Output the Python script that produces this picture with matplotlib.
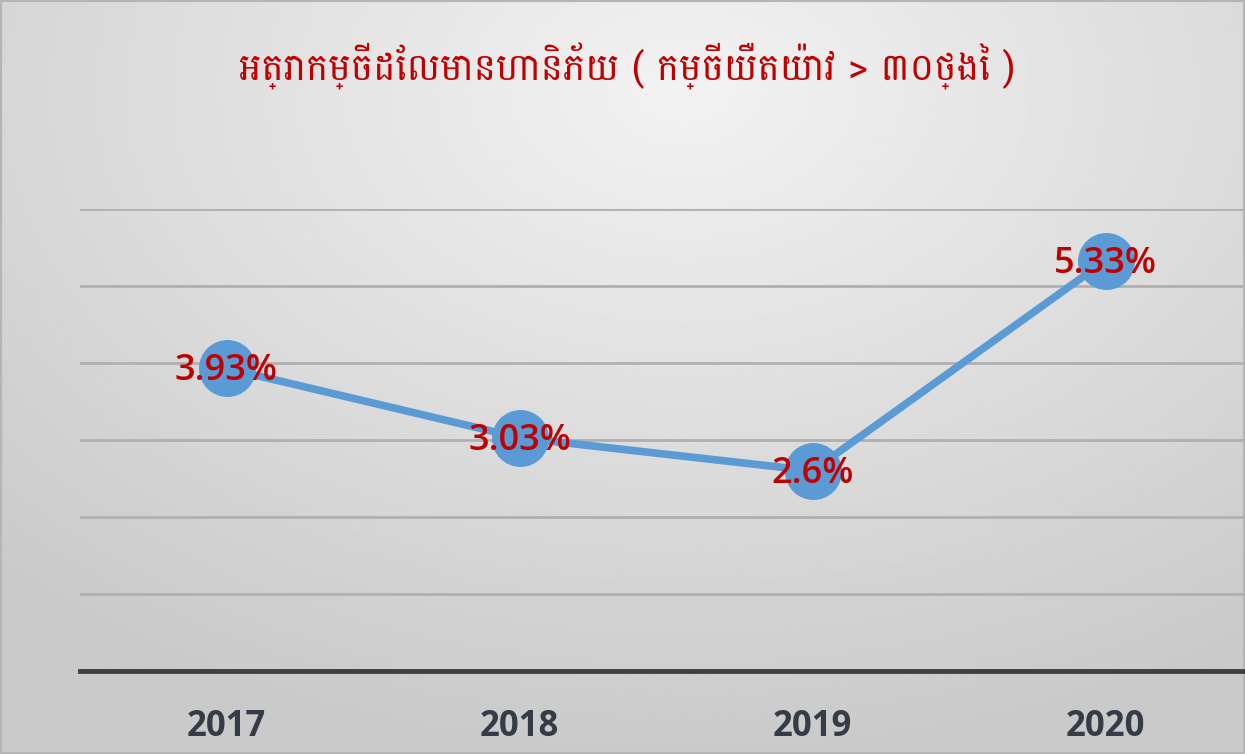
import numpy as np
from matplotlib import pyplot as plt
from matplotlib.patches import Rectangle

# data
years = ['2017', '2018', '2019', '2020']
rates = [3.93, 3.03, 2.6, 5.33]
labels = ['3.93%', '3.03%', '2.6%', '5.33%']
title = 'អត្រាកម្ចីដែលមានហានិភ័យ ( កម្ចីយឺតយ៉ាវ > ៣០ថ្ងៃ )'

fig = plt.figure(figsize=(12.45, 7.54), dpi=100)

# grey background with a light spot near the top centre
bg = fig.add_axes([0, 0, 1, 1], zorder=0)
gx, gy = np.meshgrid(np.linspace(0, 1, 400), np.linspace(0, 1, 300))
d = np.sqrt(((gx - 0.55) / 0.9) ** 2 + ((gy - 0.12) / 1.0) ** 2)
shade = np.clip(0.95 - 0.18 * d, 0.79, 0.95)
bg.imshow(shade, cmap='gray', vmin=0, vmax=1, extent=[0, 1, 0, 1],
          origin='upper', aspect='auto', interpolation='bilinear')
bg.add_patch(Rectangle((0, 0), 1, 1, fill=False, edgecolor='#b5b5b5',
                       linewidth=3, transform=bg.transAxes))
bg.set_axis_off()

ax = fig.add_axes([80 / 1245, 83 / 754, 1172 / 1245, 462 / 754], zorder=1)
ax.patch.set_alpha(0)
x = np.arange(len(years))

ax.set_xlim(-0.5, 3.5)
ax.set_ylim(0, 6)
ax.set_yticks(np.arange(1, 7))
ax.yaxis.grid(True, color='#b0b0b0', linewidth=2)
ax.set_axisbelow(True)
for side in ['top', 'right', 'left']:
    ax.spines[side].set_visible(False)
ax.spines['bottom'].set_color('#404040')
ax.spines['bottom'].set_linewidth(3.5)
ax.tick_params(left=False, labelleft=False, bottom=False)
ax.set_xticks(x)
ax.set_xticklabels(years, fontsize=25, fontweight='bold', color='#353c47',
                   family=['Open Sans', 'DejaVu Sans'])
ax.tick_params(axis='x', pad=24)

ax.plot(x, rates, color='#5b9bd5', linewidth=5.5, marker='o', markersize=40,
        markerfacecolor='#5b9bd5', markeredgecolor='#5b9bd5', zorder=3,
        solid_capstyle='round')

for xi, yi, lab in zip(x, rates, labels):
    ax.text(xi, yi - 0.04, lab, ha='center', va='center', fontsize=26,
            fontweight='semibold', color='#c00000', zorder=4,
            family=['Open Sans', 'DejaVu Sans'])

fig.text(627 / 1245, 1 - 66 / 754, title, ha='center', va='center', fontsize=27,
         color='#c00000', family=['Battambang', 'Noto Sans Khmer', 'DejaVu Sans'])

fig.savefig('out.png', dpi=100)
